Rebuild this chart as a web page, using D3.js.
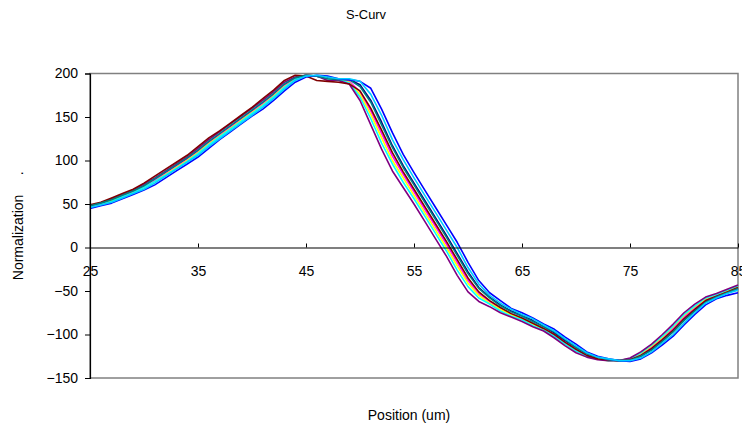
<!DOCTYPE html>
<html>
<head>
<meta charset="utf-8">
<script src="https://cdn.jsdelivr.net/npm/d3@7"></script>
<style>
  body { margin: 0; background: #fff; }
  svg { display: block; font-family: "Liberation Sans", Arial, sans-serif; }
</style>
</head>
<body>
<svg id="chart" width="742" height="430"></svg>
<script>
const positions = [25, 26, 27, 28, 29, 30, 31, 32, 33, 34, 35, 36, 37, 38, 39, 40, 41, 42, 43, 44, 45,
  46, 47, 48, 49, 50, 51, 52, 53, 54, 55, 56, 57, 58, 59, 60, 61, 62, 63, 64, 65, 66,
  67, 68, 69, 70, 71, 72, 73, 74, 75, 76, 77, 78, 79, 80, 81, 82, 83, 84, 85];

const xTicks = [25, 35, 45, 55, 65, 75, 85];
const yTicks = [-150, -100, -50, 0, 50, 100, 150, 200];

const navy = [47, 50, 54, 60, 65, 71, 78, 86, 94, 102, 111, 121, 130, 139, 148, 157, 166, 176, 187, 195, 198,
  197, 195, 193, 193, 187, 169, 144, 117, 94, 74, 54, 34, 14, -7, -28, -46, -57, -66, -73, -78, -84,
  -91, -98, -107, -115, -122, -127, -129, -130, -129, -125, -117, -107, -96, -83, -72, -62, -57, -52, -47];
const magenta = [47, 50, 54, 59, 64, 70, 77, 85, 93, 101, 110, 120, 129, 138, 147, 156, 165, 175, 186, 194, 198,
  197, 194, 193, 191, 179, 157, 131, 105, 84, 64, 44, 24, 4, -17, -38, -53, -62, -70, -76, -81, -87,
  -93, -101, -110, -118, -124, -128, -129, -130, -128, -123, -114, -104, -93, -80, -69, -60, -55, -50, -45];
const yellow = [47, 50, 54, 58, 63, 69, 76, 84, 92, 100, 109, 119, 128, 137, 146, 155, 164, 174, 185, 193, 198,
  197, 194, 193, 190, 176, 153, 126, 100, 80, 60, 40, 20, 0, -21, -41, -55, -64, -71, -77, -82, -88,
  -94, -102, -111, -119, -125, -128, -130, -130, -128, -122, -113, -103, -91, -78, -68, -59, -54, -50, -45];
const cyan = [46, 49, 53, 58, 63, 69, 76, 83, 91, 99, 108, 118, 127, 136, 145, 154, 163, 173, 184, 193, 198,
  197, 194, 193, 189, 173, 148, 120, 96, 75, 56, 36, 16, -4, -26, -45, -58, -65, -73, -79, -83, -90,
  -95, -102, -111, -119, -125, -128, -130, -130, -128, -121, -112, -102, -90, -77, -67, -58, -54, -49, -44];
const purple = [48, 51, 56, 61, 66, 73, 80, 88, 96, 104, 114, 124, 133, 142, 151, 160, 169, 179, 190, 196, 198,
  197, 192, 192, 188, 169, 141, 113, 88, 69, 50, 30, 10, -10, -32, -51, -62, -68, -75, -80, -85, -91,
  -96, -104, -113, -121, -126, -129, -130, -130, -127, -120, -111, -100, -88, -75, -65, -57, -53, -48, -43];
const maroon = [49, 52, 57, 62, 67, 74, 82, 90, 98, 106, 116, 126, 134, 143, 152, 161, 171, 181, 192, 198, 197,
  192, 191, 190, 188, 180, 160, 135, 109, 87, 67, 47, 27, 7, -14, -35, -51, -61, -69, -76, -81, -87,
  -93, -100, -109, -117, -124, -128, -129, -130, -129, -124, -116, -106, -95, -82, -71, -61, -56, -51, -46];
const teal = [48, 51, 55, 60, 65, 71, 79, 87, 95, 103, 112, 122, 131, 140, 149, 158, 167, 177, 188, 195, 198,
  197, 194, 193, 193, 185, 167, 141, 115, 92, 72, 52, 32, 12, -9, -30, -47, -58, -67, -74, -79, -85,
  -91, -97, -106, -115, -122, -126, -129, -130, -130, -125, -118, -108, -97, -84, -73, -63, -57, -52, -47];
const blue = [45, 48, 51, 56, 61, 66, 72, 80, 88, 96, 104, 114, 124, 133, 142, 151, 159, 169, 180, 190, 196,
  198, 197, 194, 193, 191, 183, 159, 132, 107, 86, 66, 46, 26, 6, -17, -38, -52, -61, -70, -75, -81,
  -88, -94, -103, -111, -120, -125, -128, -130, -131, -128, -121, -112, -102, -89, -77, -66, -59, -55, -52];
const skyblue = [46, 49, 52, 57, 62, 67, 74, 82, 90, 98, 106, 116, 125, 134, 143, 152, 161, 171, 182, 192, 197,
  198, 196, 194, 194, 191, 176, 152, 124, 101, 80, 60, 40, 20, 0, -23, -42, -55, -64, -71, -77, -82,
  -89, -96, -105, -113, -121, -126, -128, -130, -130, -127, -120, -110, -100, -87, -75, -64, -58, -53, -49];

const series = [
  { values: navy, color: '#000080' },
  { values: magenta, color: '#FF00FF' },
  { values: yellow, color: '#FFFF00' },
  { values: cyan, color: '#00FFFF' },
  { values: purple, color: '#800080' },
  { values: maroon, color: '#800000' },
  { values: teal, color: '#008080' },
  { values: blue, color: '#0000FF' },
  { values: skyblue, color: '#00CCFF' }
];

const svg = d3.select('#chart');
const plotLeft = 90, plotRight = 738, plotTop = 73.5, plotBottom = 378;

const x = d3.scaleLinear().domain([25, 85]).range([plotLeft, plotRight]);
const y = d3.scaleLinear().domain([-150, 200]).range([plotBottom, plotTop]);

// plot area border
svg.append('rect')
  .attr('x', plotLeft).attr('y', plotTop)
  .attr('width', plotRight - plotLeft).attr('height', plotBottom - plotTop)
  .attr('fill', 'none')
  .attr('stroke', '#808080')
  .attr('stroke-width', 1.5);

const line = d3.line()
  .x((d, i) => x(positions[i]))
  .y(d => y(d));

svg.append('g')
  .selectAll('path')
  .data(series)
  .enter()
  .append('path')
  .attr('d', d => line(d.values))
  .attr('fill', 'none')
  .attr('stroke', d => d.color)
  .attr('stroke-width', 1.6)
  .attr('stroke-linejoin', 'round');

const yAxis = d3.axisLeft(y).tickValues(yTicks).tickSize(5).tickPadding(7);
const gy = svg.append('g')
  .attr('transform', `translate(${plotLeft}, 0)`)
  .call(yAxis);
gy.select('.domain').attr('stroke', '#000').attr('stroke-width', 1.2);
gy.selectAll('text').style('font-size', '14px').attr('fill', '#000');

const xAxis = d3.axisBottom(x).tickValues(xTicks).tickSize(-4).tickPadding(0).tickSizeOuter(0);
const gx = svg.append('g')
  .attr('transform', `translate(0, ${y(0)})`)
  .call(xAxis);
gx.select('.domain').attr('stroke', '#000').attr('stroke-width', 1.2);
gx.selectAll('text')
  .attr('y', 28)
  .attr('dy', null)
  .style('font-size', '14px')
  .attr('fill', '#000');

svg.append('text')
  .attr('x', 366)
  .attr('y', 19)
  .attr('text-anchor', 'middle')
  .attr('textLength', 40)
  .attr('lengthAdjust', 'spacingAndGlyphs')
  .style('font-size', '13px')
  .text('S-Curv');

svg.append('text')
  .attr('x', 409)
  .attr('y', 420)
  .attr('text-anchor', 'middle')
  .style('font-size', '14px')
  .text('Position (um)');

svg.append('text')
  .attr('transform', `translate(23, ${(plotTop + plotBottom) / 2}) rotate(-90)`)
  .attr('text-anchor', 'middle')
  .style('font-size', '14px')
  .style('white-space', 'pre')
  .text('Normalization     .');
</script>
</body>
</html>
